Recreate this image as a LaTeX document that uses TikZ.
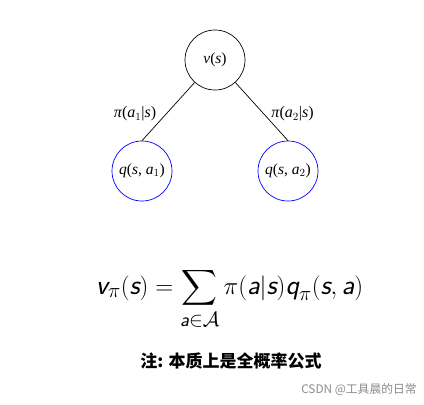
\documentclass[tikz,border=0pt]{standalone}
\usepackage{amsmath}
\usepackage{fontspec}
\setmainfont{Liberation Serif}
\newfontfamily\cjk{Noto Sans CJK SC}
\newcommand\sv[1]{\text{\sffamily\itshape #1}}
\begin{document}
\begin{tikzpicture}[x=1pt,y=-1pt,
  st/.style={circle,draw,line width=0.7pt,minimum size=60pt,inner sep=0pt,font=\fontsize{15.5}{17}\selectfont},
  qn/.style={st,draw=blue},
  lab/.style={font=\fontsize{16}{18}\selectfont,inner sep=0pt},
  edge/.style={line width=0.7pt}]
\useasboundingbox (0,0) rectangle (424,405);
\node[st] (v) at (215,60) {\textit{v}(\textit{s})};
\node[qn] (q1) at (142,171) {\textit{q}(\textit{s}, \textit{a}$_1$)};
\node[qn] (q2) at (288,171) {\textit{q}(\textit{s}, \textit{a}$_2$)};
\draw[edge] (v) -- (q1.north);
\draw[edge] (v) -- (q2.north);
\node[lab] (l1) at (135,114) {\textit{π}(\textit{a}$_1$|\textit{s})};
\node[lab] (l2) at (292.5,114) {\textit{π}(\textit{a}$_2$|\textit{s})};
\node[anchor=base,inner sep=0pt,font=\fontsize{28}{32}\selectfont] (f) at (229.5,294)
  {$\displaystyle \sv{v}_{\pi}(\sv{s}) = \sum_{\sv{a}\in\mathcal{A}} \pi(\sv{a}|\sv{s})\sv{q}_{\pi}(\sv{s},\sv{a})$};
\node[inner sep=0pt,font=\cjk\bfseries\fontsize{17}{19}\selectfont] (n) at (231,361) {注: 本质上是全概率公式};
\node[inner sep=0pt,text=black!45,font=\cjk\fontsize{11.8}{13}\selectfont] (w) at (359,390) {CSDN @工具晨的日常};
\end{tikzpicture}
\end{document}
